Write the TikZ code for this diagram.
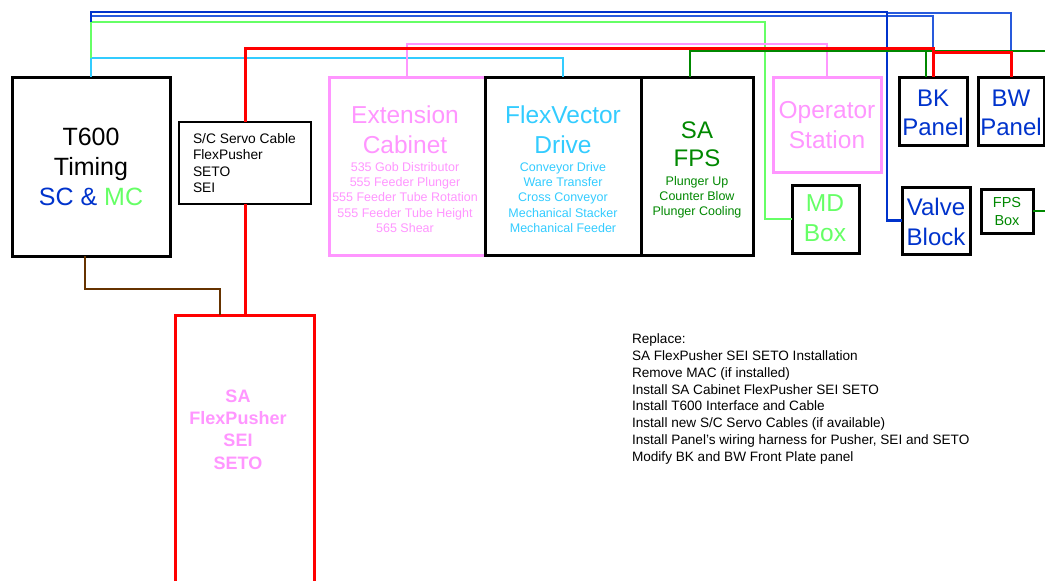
\documentclass[tikz,border=0pt]{standalone}
\usepackage{fontspec}
\setmainfont{Liberation Sans}
\definecolor{pk}{RGB}{255,150,255}
\definecolor{cy}{RGB}{51,204,255}
\definecolor{lg}{RGB}{102,255,102}
\definecolor{dg}{RGB}{0,136,0}
\definecolor{db}{RGB}{0,51,204}
\definecolor{lb}{RGB}{40,90,220}
\definecolor{rd}{RGB}{255,0,0}
\definecolor{br}{RGB}{102,51,0}
\newcommand{\myfs}[2]{\fontsize{#1}{#2}\selectfont}
\begin{document}
\begin{tikzpicture}[x=1pt,y=-1pt,
  bx/.style={draw=black, line width=3pt, rectangle, inner sep=0pt, outer sep=0pt, fill=white},
  pbx/.style={bx, draw=pk, line width=3pt},
  tx/.style={inner sep=0pt, outer sep=0pt, align=center},
  title/.style={tx, font=\myfs{24.5}{29.5}},
  items/.style={tx, font=\myfs{12.5}{15.2}},
  wire/.style={line width=2pt},
]
\useasboundingbox (0,0) rectangle (1045,581);
\clip (0,0) rectangle (1045,581);
\fill[white] (0,0) rectangle (1045,581);

% boxes
\node[bx, minimum width=158pt, minimum height=179pt] (t600) at (91,166.5) {};
\node[bx, line width=2pt, minimum width=132pt, minimum height=82pt] (sc) at (245,163) {};
\node[bx, draw=rd, line width=3pt, minimum width=139pt, minimum height=285pt] (sa) at (245,457.5) {};
\node[pbx, minimum width=156pt, minimum height=178pt] (ext) at (407,166) {};
\node[bx, minimum width=156pt, minimum height=178pt] (fv) at (563,166) {};
\node[bx, minimum width=112pt, minimum height=178pt] (fps) at (697,166) {};
\node[pbx, minimum width=108pt, minimum height=95pt] (op) at (827,124.5) {};
\node[bx, minimum width=67pt, minimum height=68pt] (md) at (825.5,219) {};
\node[bx, minimum width=68pt, minimum height=68pt] (bk) at (933,111) {};
\node[bx, minimum width=66pt, minimum height=68pt] (bw) at (1011,111) {};
\node[bx, minimum width=68pt, minimum height=67pt] (vb) at (936,220.5) {};
\node[bx, line width=3pt, minimum width=52pt, minimum height=44pt] (fpsbox) at (1007,211) {};

% junction coordinates
\coordinate (tc) at (91,58);
\coordinate (tm) at (91,16);
\coordinate (tg) at (91,22);
\coordinate (tb) at (91,12);
\coordinate (bkj) at (933,48.5);
\coordinate (bwj) at (1011,52);
\coordinate (dgj) at (926,51);
\coordinate (redge) at (1045,51);
\coordinate (fedge) at (1045,211);

% connectors
\draw[wire, cy] (t600.north) -- (tc) -| (fv.north);
\draw[wire, lg] (tc) -- (tg) -| (765,219) -- (md.west);
\draw[wire, lb] (tm) -| (bkj);
\draw[wire, lb] (887,12.5) -| (bwj);
\draw[wire, db, line width=2.6pt] (tg) -- (tb) -| (887,220.5) -- (vb.west);
\draw[wire, pk] (ext.north) -- (407,44) -| (op.north);
\draw[wire, dg] ([xshift=-7pt]fps.north) |- (dgj) -- ([xshift=-7pt]bk.north);
\draw[wire, dg] (dgj) -- (redge);
\draw[wire, dg] (fpsbox.east) -- (fedge);
\draw[wire, rd, line width=3pt] (sa.north) -- (sc.south);
\draw[wire, rd, line width=3pt] (sc.north) -- (245,48.5) -- (bkj) -- (bk.north);
\draw[wire, rd, line width=3pt] (933,52) -| (bw.north);
\draw[wire, br, line width=2.5pt] ([xshift=-6pt]t600.south) -- (85,289) -| ([xshift=-25pt]sa.north);

% texts
\node[tx, font=\myfs{25}{30}] (t600t) at (91,167) {T600\\Timing\\\textcolor{db}{SC \&} \textcolor{lg}{MC}};
\node[tx, align=left, anchor=west, font=\myfs{13.8}{16.5}] (sct) at (193,163) {S/C Servo Cable\\FlexPusher\\SETO\\SEI};
\node[tx, text=pk, font=\myfs{18}{22.4}\bfseries] (sat) at (238,429.5) {SA\\FlexPusher\\SEI\\SETO};
\node[title, text=pk] (extt) at (405,129.5) {Extension\\Cabinet};
\node[items, text=pk] (exti) at (405,197.5) {535 Gob Distributor\\555 Feeder Plunger\\555 Feeder Tube Rotation\\555 Feeder Tube Height\\565 Shear};
\node[title, text=cy] (fvt) at (563,129.5) {FlexVector\\Drive};
\node[items, text=cy] (fvi) at (563,197.5) {Conveyor Drive\\Ware Transfer\\Cross Conveyor\\Mechanical Stacker\\Mechanical Feeder};
\node[title, text=dg, font=\myfs{24}{28}] (fpst) at (697,144) {SA\\FPS};
\node[items, text=dg] (fpsi) at (697,197) {Plunger Up\\Counter Blow\\Plunger Cooling};
\node[title, text=pk] (opt) at (827,125) {Operator\\Station};
\node[title, text=lg] (mdt) at (825,218) {MD\\Box};
\node[title, text=db, font=\myfs{24}{29}] (bkt) at (933,112.5) {BK\\Panel};
\node[title, text=db, font=\myfs{24}{29}] (bwt) at (1011,112.5) {BW\\Panel};
\node[title, text=db, font=\myfs{24}{30}] (vbt) at (936,222) {Valve\\Block};
\node[tx, text=dg, font=\myfs{14.5}{18}] (fpsbt) at (1007,212) {FPS\\Box};
\node[tx, align=left, anchor=west, font=\myfs{13.6}{16.9}] (note) at (632,399) {Replace:\\SA FlexPusher SEI SETO Installation\\Remove MAC (if installed)\\Install SA Cabinet FlexPusher SEI SETO\\Install T600 Interface and Cable\\Install new S/C Servo Cables (if available)\\Install Panel's wiring harness for Pusher, SEI and SETO\\Modify BK and BW Front Plate panel};
\end{tikzpicture}
\end{document}
